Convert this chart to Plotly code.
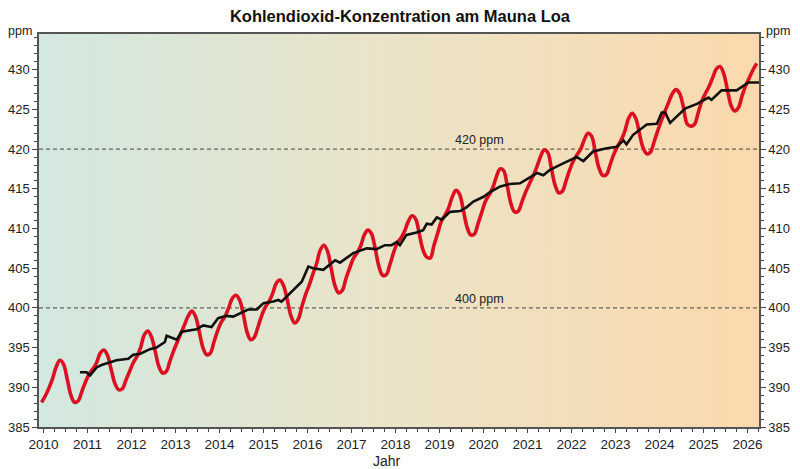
import plotly.graph_objects as go

# ---------------- data ----------------
# monthly mean CO2 (ppm), starting December 2009, ending March 2026
first_year, first_month = 2009, 12
monthly_ppm = [
    388.1,
    388.9, 389.9, 391.1, 392.6, 393.4, 392.9, 391.0, 389.0, 388.1, 388.3, 389.5, 390.7,  # 2010
    391.7, 392.3, 393.1, 394.3, 394.7, 394.0, 392.2, 390.5, 389.7, 389.8, 390.9, 392.0,  # 2011
    393.1, 393.9, 395.0, 396.6, 397.1, 396.3, 394.5, 392.6, 391.8, 392.0, 393.3, 394.6,  # 2012
    395.7, 396.8, 397.9, 399.0, 399.6, 398.9, 397.0, 395.0, 394.1, 394.3, 395.7, 397.1,  # 2013
    398.2, 398.9, 400.0, 401.2, 401.6, 401.0, 399.2, 397.0, 396.0, 396.3, 397.6, 399.0,  # 2014
    400.1, 400.8, 401.8, 403.1, 403.5, 402.8, 401.0, 399.0, 398.1, 398.6, 400.2, 401.7,  # 2015
    402.9, 404.3, 405.6, 407.3, 407.9, 407.1, 404.9, 402.8, 401.9, 402.2, 403.7, 405.0,  # 2016
    406.2, 406.9, 407.8, 409.2, 409.8, 409.3, 407.4, 405.2, 404.1, 404.2, 405.5, 407.0,  # 2017
    408.2, 408.8, 409.7, 410.9, 411.6, 411.2, 409.3, 407.3, 406.4, 406.3, 407.9, 409.4,  # 2018
    410.9, 411.7, 412.6, 414.0, 414.8, 414.3, 412.3, 410.2, 409.2, 409.3, 410.6, 412.0,  # 2019
    413.4, 414.2, 415.1, 416.5, 417.5, 417.3, 415.3, 413.1, 412.1, 412.2, 413.4, 414.6,  # 2020
    415.6, 416.6, 417.7, 419.0, 419.9, 419.6, 417.6, 415.5, 414.5, 414.7, 416.0, 417.4,  # 2021
    418.5, 419.3, 420.0, 421.2, 422.0, 421.6, 419.6, 417.6, 416.7, 416.8, 418.0, 419.3,  # 2022
    420.3, 421.1, 422.2, 423.8, 424.5, 423.9, 422.0, 420.2, 419.4, 419.6, 420.9, 422.3,  # 2023
    423.6, 424.8, 425.9, 427.0, 427.5, 427.0, 425.3, 423.2, 422.9, 423.1, 424.5, 426.0,  # 2024
    427.0, 427.9, 429.0, 430.1, 430.4, 429.5, 427.5, 425.5, 424.8, 425.2, 426.7, 428.0,  # 2025
    429.0, 430.0, 430.8,                                                                 # 2026
]

# trend (running mean): decimal year / ppm
trend_year = [
    2010.83, 2010.98, 2011.06, 2011.21, 2011.32, 2011.47, 2011.66, 2011.93, 2012.04, 2012.19,
    2012.42, 2012.57, 2012.76, 2012.80, 2013.03, 2013.14, 2013.33, 2013.48, 2013.63, 2013.82,
    2013.97, 2014.16, 2014.31, 2014.54, 2014.65, 2014.85, 2015.00, 2015.22, 2015.34, 2015.41,
    2015.60, 2015.87, 2016.02, 2016.13, 2016.36, 2016.47, 2016.63, 2016.74, 2017.04, 2017.35,
    2017.57, 2017.76, 2017.91, 2018.03, 2018.10, 2018.25, 2018.48, 2018.63, 2018.71, 2018.82,
    2018.94, 2019.05, 2019.24, 2019.47, 2019.62, 2019.77, 2020.00, 2020.15, 2020.38, 2020.60,
    2020.83, 2021.13, 2021.22, 2021.36, 2021.51, 2021.81, 2022.12, 2022.27, 2022.49, 2022.80,
    2023.03, 2023.18, 2023.25, 2023.40, 2023.71, 2023.94, 2024.05, 2024.13, 2024.24, 2024.58,
    2024.85, 2025.11, 2025.18, 2025.41, 2025.75, 2026.02, 2026.28, 2026.44,
]
trend_ppm = [
    391.9, 391.9, 391.5, 392.5, 392.8, 393.1, 393.4, 393.6, 394.1, 394.2,
    394.8, 395.0, 395.7, 396.5, 396.0, 397.0, 397.2, 397.3, 397.8, 397.6,
    398.7, 399.0, 398.9, 399.5, 399.8, 399.8, 400.6, 400.8, 401.0, 400.8,
    401.8, 403.3, 405.2, 405.0, 404.8, 405.3, 406.0, 405.7, 406.9, 407.5,
    407.4, 407.9, 407.9, 408.3, 407.9, 409.2, 409.5, 409.8, 410.6, 410.5,
    411.4, 411.1, 412.1, 412.2, 412.7, 413.4, 414.0, 414.6, 415.3, 415.6,
    415.7, 416.7, 417.0, 416.7, 417.4, 418.2, 419.0, 418.5, 419.7, 420.1,
    420.3, 421.1, 420.6, 421.8, 423.1, 423.2, 424.6, 424.6, 423.3, 425.1,
    425.7, 426.5, 426.2, 427.4, 427.4, 428.4, 428.4, 428.8,
]

reference_levels = [400, 420]
reference_labels = ["400 ppm", "420 ppm"]
year_ticks = list(range(2010, 2027))

X_RANGE = [2009.90, 2026.26]
Y_RANGE = [385, 434.5]

# decimal-year positions of the monthly values (mid-month)
month_x = []
y, m = first_year, first_month
for _ in monthly_ppm:
    month_x.append(y + (m - 0.5) / 12)
    m += 1
    if m > 12:
        m, y = 1, y + 1

# ---------------- figure ----------------
fig = go.Figure()

# gradient background of the plot area
fig.add_trace(go.Scatter(
    x=[X_RANGE[0], X_RANGE[1], X_RANGE[1], X_RANGE[0], X_RANGE[0]],
    y=[Y_RANGE[0], Y_RANGE[0], Y_RANGE[1], Y_RANGE[1], Y_RANGE[0]],
    mode="lines", line=dict(width=0), fill="toself",
    fillgradient=dict(type="horizontal",
                      colorscale=[[0, "#d2e8e0"], [0.5, "#ebe3c7"], [1, "#fbd9ac"]]),
    hoverinfo="skip", showlegend=False,
))

# dashed reference lines
for lvl in reference_levels:
    fig.add_trace(go.Scatter(
        x=X_RANGE, y=[lvl, lvl], mode="lines",
        line=dict(color="#444444", width=1, dash="4px,3px"),
        hoverinfo="skip", showlegend=False,
    ))

fig.add_trace(go.Scatter(
    x=month_x, y=monthly_ppm, mode="lines",
    line=dict(color="#db1020", width=3.6, shape="spline", smoothing=1),
    showlegend=False,
))
fig.add_trace(go.Scatter(
    x=trend_year, y=trend_ppm, mode="lines",
    line=dict(color="#111111", width=2.6),
    showlegend=False,
))
# invisible trace so the right-hand axis is drawn
fig.add_trace(go.Scatter(x=[year_ticks[0]], y=[reference_levels[0]], yaxis="y2",
                         mode="markers", marker=dict(opacity=0),
                         hoverinfo="skip", showlegend=False))

for lvl, txt in zip(reference_levels, reference_labels):
    fig.add_annotation(x=2019.9, y=lvl, text=txt, showarrow=False,
                       yanchor="bottom", xanchor="center",
                       font=dict(size=12.5, color="#222"), yshift=0)

fig.add_annotation(xref="paper", yref="paper", x=-0.027, y=1.008, text="ppm",
                   showarrow=False, xanchor="center", yanchor="middle",
                   font=dict(size=12.5, color="#222"))
fig.add_annotation(xref="paper", yref="paper", x=1.027, y=1.008, text="ppm",
                   showarrow=False, xanchor="center", yanchor="middle",
                   font=dict(size=12.5, color="#222"))
# x-axis title
fig.add_annotation(xref="paper", yref="paper", x=(387 - 39) / 720, y=-33.5 / 393,
                   text="Jahr", showarrow=False, xanchor="center", yanchor="middle",
                   font=dict(size=14, color="#222"))

axis_common = dict(showgrid=False, zeroline=False, showline=True, automargin=False,
                   linecolor="#555555", linewidth=1.5,
                   ticks="outside", tickcolor="#444444", tickwidth=1)

fig.update_layout(
    width=800, height=469,
    margin=dict(l=39, r=41, t=34, b=42),
    paper_bgcolor="white", plot_bgcolor="white",
    font=dict(family="Liberation Sans, Arial, sans-serif", size=13, color="#222"),
    title=dict(text="<b>Kohlendioxid-Konzentration am Mauna Loa</b>",
               x=0.5, xanchor="center", y=1 - 16 / 469, yanchor="middle",
               yref="container", font=dict(size=16.5, color="#111")),
    xaxis=dict(range=X_RANGE, tickvals=year_ticks, ticklen=4, mirror=True,
               minor=dict(dtick=0.25, tick0=2010, ticklen=3, ticks="outside",
                          tickcolor="#444444"),
               tickfont=dict(size=13.5), **axis_common),
    yaxis=dict(range=Y_RANGE, tick0=385, dtick=5, ticklen=5, mirror=True,
               minor=dict(dtick=1, tick0=385, ticklen=3, ticks="outside",
                          tickcolor="#444444"),
               tickfont=dict(size=13), **axis_common),
    yaxis2=dict(range=Y_RANGE, tick0=385, dtick=5, ticklen=5, overlaying="y",
                side="right",
                minor=dict(dtick=1, tick0=385, ticklen=3, ticks="outside",
                           tickcolor="#444444"),
                tickfont=dict(size=13), **axis_common),
)

fig.write_html("out.html")
